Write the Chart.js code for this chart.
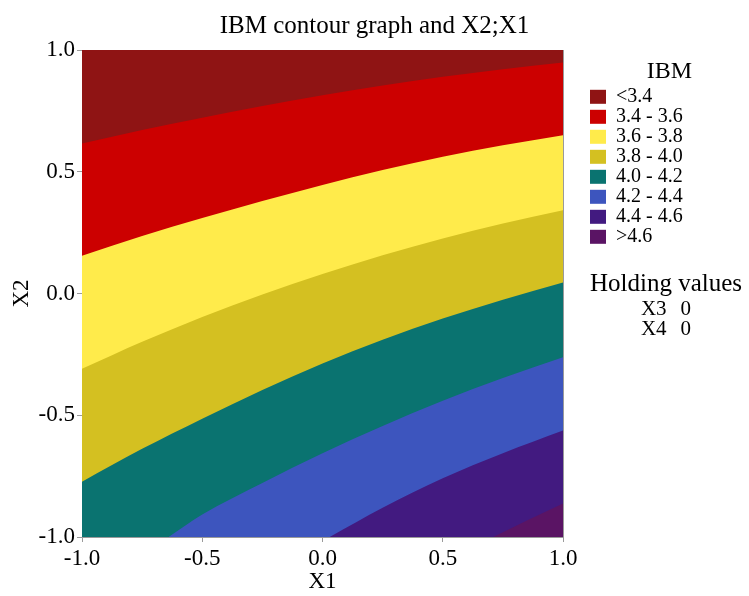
<!DOCTYPE html>
<html><head><meta charset="utf-8">
<script src="https://cdn.jsdelivr.net/npm/chart.js@4.4.0/dist/chart.umd.min.js"></script>
<style>
html,body{margin:0;padding:0;background:#fff;}
#wrap{position:relative;width:749px;height:596px;overflow:hidden;}
#c{position:absolute;left:0;top:0;}
#hold{position:absolute;left:583px;top:268px;width:166px;font-family:"Liberation Serif",serif;color:#000;text-align:center;}
#hold .h{font-size:25px;line-height:30px;}
#hold .r{font-size:21px;line-height:20px;}
#hold .r span+span{margin-left:14px;}
</style></head><body>
<div id="wrap">
<canvas id="c" width="749" height="596"></canvas>
<div id="hold"><div class="h">Holding values</div><div class="r"><span>X3</span><span>0</span></div><div class="r"><span>X4</span><span>0</span></div></div>
</div>
<script>
// ---- data ----
const X_MIN = -1, X_MAX = 1, Y_MIN = -1, Y_MAX = 1;
const X_TICKS = [-1, -0.5, 0, 0.5, 1];
const X_TICK_LABELS = ['-1.0', '-0.5', '0.0', '0.5', '1.0'];
const Y_TICKS = [-1, -0.5, 0, 0.5, 1];
const Y_TICK_LABELS = ['-1.0', '-0.5', '0.0', '0.5', '1.0'];

const LEVEL_LABELS = ['<3.4', '3.4 - 3.6', '3.6 - 3.8', '3.8 - 4.0', '4.0 - 4.2', '4.2 - 4.4', '4.4 - 4.6', '>4.6'];

// contour level lines: X2 value of each line at the given X1 values
const X_GRID = [-1, -0.75, -0.5, -0.25, 0, 0.25, 0.5, 0.75, 1];
const B_34 = [0.616, 0.671, 0.722, 0.770, 0.814, 0.854, 0.890, 0.921, 0.949];
const B_36 = [0.155, 0.236, 0.310, 0.380, 0.446, 0.507, 0.562, 0.609, 0.650];
const B_38 = [-0.309, -0.198, -0.096, -0.004, 0.080, 0.157, 0.226, 0.287, 0.342];
const B_40 = [-0.773, -0.638, -0.514, -0.396, -0.287, -0.190, -0.103, -0.026, 0.045];
const B_42_X = [-0.64, -0.5, -0.25, 0, 0.25, 0.5, 0.75, 1];
const B_42 = [-1, -0.908, -0.778, -0.656, -0.544, -0.440, -0.347, -0.262];
const B_44_X = [0.03, 0.25, 0.5, 0.75, 1];
const B_44 = [-1, -0.880, -0.759, -0.656, -0.563];
const B_46_X = [0.71, 0.85, 1];
const B_46 = [-1, -0.932, -0.862];

// ---- styling ----
const LEVEL_COLORS = ['#8F1414', '#CC0000', '#FFEB4B', '#D4C021', '#0A7370', '#3D55BE', '#421A80', '#5A1464'];
const FONT = "'Liberation Serif', serif";

// upper edge of each coloured region (region 0 is bounded by the top of the plot)
const upperEdges = [
  [[X_MIN, X_MAX], [Y_MAX, Y_MAX]],
  [X_GRID, B_34], [X_GRID, B_36], [X_GRID, B_38], [X_GRID, B_40],
  [B_42_X, B_42], [B_44_X, B_44], [B_46_X, B_46]
];

const datasets = upperEdges.map(([xs, ys], r) => ({
  label: LEVEL_LABELS[r],
  data: xs.map((x, j) => ({x: x, y: ys[j]})),
  backgroundColor: LEVEL_COLORS[r],
  borderColor: LEVEL_COLORS[r],
  borderWidth: 0,
  pointRadius: 0,
  fill: 'start',
  order: LEVEL_LABELS.length - r,
  cubicInterpolationMode: 'monotone'
}));

const LEGEND_WIDTH = 159;
const legendWidthPlugin = {
  id: 'legendWidth',
  beforeLayout(chart) {
    const lg = chart.legend;
    if (lg && !lg._wPatched) {
      const f = lg.fit.bind(lg);
      lg.fit = function () { f(); this.width = LEGEND_WIDTH; };
      lg._wPatched = true;
    }
  }
};

const axisGray = '#9a9a9a';

new Chart(document.getElementById('c'), {
  type: 'line',
  data: { datasets },
  plugins: [legendWidthPlugin],
  options: {
    responsive: false,
    animation: false,
    events: [],
    layout: { padding: 0 },
    plugins: {
      tooltip: { enabled: false },
      title: {
        display: true,
        text: 'IBM contour graph and X2;X1',
        font: { family: FONT, size: 25, weight: 'normal' },
        color: '#000',
        padding: { top: 11, bottom: 9 }
      },
      legend: {
        position: 'right',
        align: 'start',
        onClick: null,
        title: {
          display: true,
          text: 'IBM',
          font: { family: FONT, size: 24, weight: 'normal' },
          color: '#000',
          padding: { top: 60, bottom: -2 }
        },
        labels: {
          font: { family: FONT, size: 20 },
          color: '#000',
          boxWidth: 16,
          boxHeight: 14,
          padding: 0,
          generateLabels: () => LEVEL_LABELS.map((t, i) => ({
            text: t, fillStyle: LEVEL_COLORS[i], strokeStyle: LEVEL_COLORS[i],
            lineWidth: 0, hidden: false, datasetIndex: i, fontColor: '#000'
          }))
        }
      }
    },
    scales: {
      x: {
        type: 'linear', position: 'bottom', min: X_MIN, max: X_MAX,
        afterBuildTicks: s => { s.ticks = X_TICKS.map(v => ({value: v})); },
        ticks: {
          callback: (v, i) => X_TICK_LABELS[i],
          font: { family: FONT, size: 23 }, color: '#000', padding: 3,
          maxRotation: 0, autoSkip: false
        },
        grid: { display: true, drawOnChartArea: false, drawTicks: true, tickLength: 5, color: axisGray },
        border: { display: true, color: axisGray, width: 1 },
        title: { display: true, text: 'X1', font: { family: FONT, size: 23 }, color: '#000', padding: { top: 0, bottom: 0 } },
        afterFit: s => { s.height = 59; }
      },
      y: {
        type: 'linear', position: 'left', min: Y_MIN, max: Y_MAX,
        afterBuildTicks: s => { s.ticks = Y_TICKS.map(v => ({value: v})); },
        ticks: {
          callback: (v, i) => Y_TICK_LABELS[i],
          font: { family: FONT, size: 23 }, color: '#000', padding: 2, autoSkip: false
        },
        grid: { display: true, drawOnChartArea: false, drawTicks: true, tickLength: 5, color: axisGray },
        border: { display: true, color: axisGray, width: 1 },
        title: { display: true, text: 'X2', font: { family: FONT, size: 23 }, color: '#000', padding: { top: 8, bottom: 0 } },
        afterFit: s => { s.width = 82; }
      },
      x2: {
        type: 'linear', position: 'top', min: X_MIN, max: X_MAX,
        ticks: { display: false },
        grid: { display: false, drawTicks: false },
        border: { display: true, color: axisGray, width: 1 },
        afterFit: s => { s.height = 0; }
      },
      y2: {
        type: 'linear', position: 'right', min: Y_MIN, max: Y_MAX,
        ticks: { display: false },
        grid: { display: false, drawTicks: false },
        border: { display: true, color: axisGray, width: 1 },
        afterFit: s => { s.width = 27; }
      }
    }
  }
});
</script>
</body></html>
